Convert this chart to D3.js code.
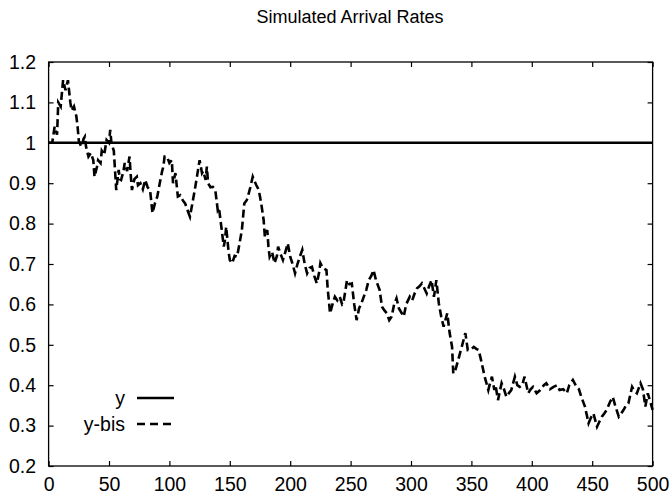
<!DOCTYPE html>
<html>
<head>
<meta charset="utf-8">
<script src="https://cdn.jsdelivr.net/npm/d3@7"></script>
<style>
  html, body { margin: 0; padding: 0; background: #fff; }
  svg { display: block; }
  text { font-family: "Liberation Sans", Arial, Helvetica, sans-serif; fill: #000; }
</style>
</head>
<body>
<svg id="chart" width="671" height="498"></svg>
<script>
const title = "Simulated Arrival Rates";
const xTicks = [0, 50, 100, 150, 200, 250, 300, 350, 400, 450, 500];
const yTicks = [0.2, 0.3, 0.4, 0.5, 0.6, 0.7, 0.8, 0.9, 1.0, 1.1, 1.2];
const yTickLabels = ["0.2", "0.3", "0.4", "0.5", "0.6", "0.7", "0.8", "0.9", "1", "1.1", "1.2"];
const seriesNames = ["y", "y-bis"];
const yConst = 1.0;

const bisX = [0,3,5,7,8,10,12,14,16,18,19,21,23,24,25,27,29,30,31,33,35,37,38,40,41,43,44,46,48,50,51,52,54,56,58,59,60,62,63,65,67,68,69,71,73,74,76,78,80,82,84,86,88,90,92,94,95,96,98,100,102,103,105,107,109,111,113,114,116,117,119,121,123,125,127,128,130,131,132,134,136,138,140,141,143,145,146,147,149,150,152,154,156,158,160,162,164,165,167,169,170,172,174,176,178,179,181,182,183,185,187,189,190,192,194,196,198,200,202,204,206,208,210,212,214,216,218,220,222,224,225,227,230,231,233,235,237,239,241,243,244,246,247,249,251,253,255,257,259,261,263,265,267,269,271,273,274,276,278,280,282,284,286,288,290,292,294,296,299,301,303,305,307,309,311,313,315,317,319,321,323,325,327,330,332,334,335,337,339,342,345,347,350,352,354,356,358,361,364,365,367,369,370,372,375,377,379,381,383,386,388,390,392,394,397,399,401,404,407,410,412,415,418,421,423,426,429,431,434,437,439,441,444,447,449,451,454,456,458,460,462,465,467,469,472,474,476,478,480,483,485,487,490,492,494,496,498,500];
const bisY = [1.0,1.0,1.04,1.02,1.10,1.09,1.155,1.13,1.155,1.10,1.08,1.09,1.065,1.04,1.005,0.99,1.01,1.015,0.99,0.966,0.975,0.957,0.916,0.94,0.957,0.95,0.98,0.97,1.007,1.0,1.032,1.0,0.98,0.883,0.933,0.91,0.908,0.93,0.95,0.93,0.966,0.92,0.883,0.91,0.916,0.895,0.90,0.885,0.908,0.89,0.883,0.826,0.85,0.867,0.90,0.93,0.941,0.966,0.966,0.95,0.957,0.90,0.925,0.867,0.87,0.858,0.85,0.842,0.825,0.817,0.85,0.883,0.92,0.957,0.925,0.93,0.908,0.941,0.90,0.89,0.891,0.883,0.834,0.84,0.792,0.743,0.759,0.792,0.73,0.71,0.702,0.72,0.718,0.75,0.784,0.85,0.858,0.867,0.89,0.916,0.908,0.895,0.883,0.85,0.809,0.768,0.784,0.743,0.718,0.73,0.702,0.72,0.743,0.725,0.71,0.73,0.751,0.718,0.70,0.677,0.70,0.718,0.735,0.70,0.677,0.69,0.693,0.67,0.652,0.68,0.702,0.69,0.685,0.64,0.578,0.60,0.619,0.61,0.619,0.60,0.603,0.64,0.66,0.65,0.652,0.60,0.561,0.59,0.603,0.62,0.636,0.66,0.67,0.685,0.66,0.644,0.636,0.594,0.585,0.578,0.561,0.57,0.60,0.615,0.59,0.58,0.57,0.60,0.619,0.61,0.627,0.64,0.645,0.652,0.64,0.627,0.645,0.66,0.619,0.66,0.603,0.57,0.545,0.578,0.529,0.495,0.429,0.44,0.462,0.495,0.529,0.487,0.49,0.495,0.49,0.487,0.462,0.421,0.388,0.40,0.421,0.388,0.40,0.363,0.405,0.39,0.371,0.38,0.388,0.421,0.40,0.396,0.40,0.421,0.38,0.39,0.396,0.38,0.388,0.40,0.405,0.39,0.396,0.40,0.388,0.39,0.38,0.40,0.413,0.396,0.39,0.371,0.347,0.306,0.32,0.33,0.297,0.31,0.322,0.33,0.339,0.36,0.371,0.35,0.322,0.33,0.339,0.35,0.355,0.396,0.385,0.38,0.405,0.39,0.347,0.38,0.36,0.339];

const svg = d3.select("#chart");
const plot = { left: 48.6, right: 652.6, top: 62, bottom: 466 };

const x = d3.scaleLinear().domain([0, 500]).range([plot.left, plot.right]);
const y = d3.scaleLinear().domain([0.2, 1.2]).range([plot.bottom, plot.top]);

const tickLen = 5;
const fontSize = 19.5;

const fmtY = (d) => yTickLabels[yTicks.indexOf(d)];
const bottomAxis = d3.axisBottom(x).tickValues(xTicks).tickSize(-tickLen).tickPadding(11).tickFormat(d3.format("d"));
const topAxis = d3.axisTop(x).tickValues(xTicks).tickSize(-tickLen).tickFormat("");
const leftAxis = d3.axisLeft(y).tickValues(yTicks).tickSize(-tickLen).tickPadding(12.5).tickFormat(fmtY);
const rightAxis = d3.axisRight(y).tickValues(yTicks).tickSize(-tickLen).tickFormat("");

function styleAxis(g) {
  g.select(".domain").remove();
  g.selectAll(".tick line").attr("stroke", "#000").attr("stroke-width", 1.2);
  g.selectAll("text").attr("font-size", fontSize).attr("font-family", "'Liberation Sans', Arial, sans-serif").attr("fill", "#000");
}

svg.append("g").attr("transform", `translate(0,${plot.bottom})`).call(bottomAxis).call(styleAxis);
svg.append("g").attr("transform", `translate(0,${plot.top})`).call(topAxis).call(styleAxis);
svg.append("g").attr("transform", `translate(${plot.left},0)`).call(leftAxis).call(styleAxis);
svg.append("g").attr("transform", `translate(${plot.right},0)`).call(rightAxis).call(styleAxis);

svg.append("rect")
  .attr("x", plot.left).attr("y", plot.top)
  .attr("width", plot.right - plot.left).attr("height", plot.bottom - plot.top)
  .attr("fill", "none").attr("stroke", "#000").attr("stroke-width", 1.3);

svg.append("line")
  .attr("x1", x(0)).attr("x2", x(500))
  .attr("y1", y(yConst)).attr("y2", y(yConst))
  .attr("stroke", "#000").attr("stroke-width", 2.6);

const data = bisX.map((d, i) => ({ x: d, y: bisY[i] }));
const line = d3.line().x(d => x(d.x)).y(d => y(d.y));
svg.append("path")
  .datum(data)
  .attr("d", line)
  .attr("fill", "none")
  .attr("stroke", "#000")
  .attr("stroke-width", 2.6)
  .attr("stroke-dasharray", "8,4");

svg.append("text")
  .attr("x", 350).attr("y", 23)
  .attr("text-anchor", "middle")
  .attr("font-size", 18)
  .text(title);

const legendX = 125, legendLineX1 = 137, legendLineX2 = 174;
const legendYs = [398, 424];
seriesNames.forEach((name, i) => {
  svg.append("text")
    .attr("x", legendX).attr("y", legendYs[i])
    .attr("dy", "0.35em")
    .attr("text-anchor", "end")
    .attr("font-size", fontSize)
    .text(name);
  svg.append("line")
    .attr("x1", legendLineX1).attr("x2", legendLineX2)
    .attr("y1", legendYs[i]).attr("y2", legendYs[i])
    .attr("stroke", "#000")
    .attr("stroke-width", i === 0 ? 2.6 : 2.6)
    .attr("stroke-dasharray", i === 0 ? null : "8,5");
});
</script>
</body>
</html>
